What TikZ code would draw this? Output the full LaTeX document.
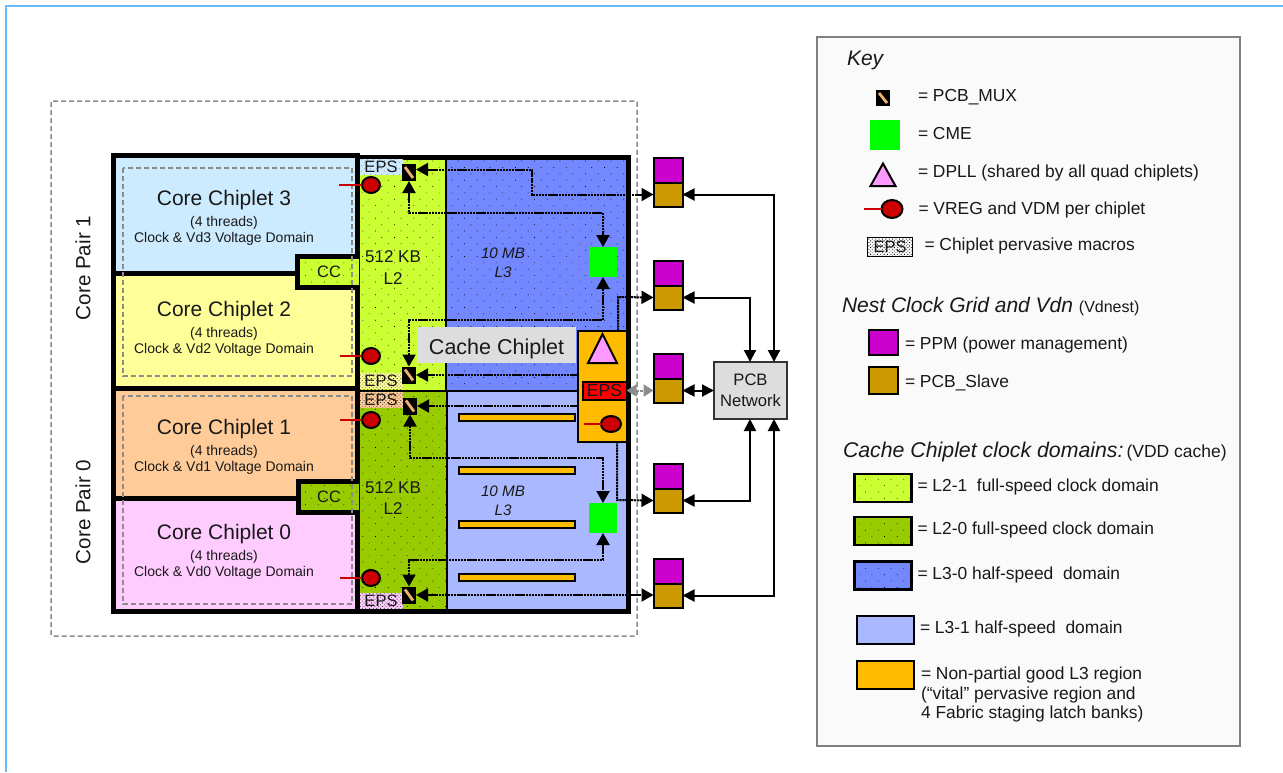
\documentclass[tikz,border=0pt]{standalone}
\usepackage{fontspec}
\setmainfont{Liberation Sans}
\usetikzlibrary{arrows.meta, positioning, shapes.geometric, patterns.meta}

\definecolor{framecol}{HTML}{66BBFF}
\definecolor{coreA}{HTML}{CCEBFF}
\definecolor{coreB}{HTML}{FFFF99}
\definecolor{coreC}{HTML}{FFCC99}
\definecolor{coreD}{HTML}{FFCCFF}
\definecolor{ltwoA}{HTML}{CCFF33}
\definecolor{ltwoB}{HTML}{99CC00}
\definecolor{lthreeA}{HTML}{7388FF}
\definecolor{lthreeB}{HTML}{AAB8FF}
\definecolor{vital}{HTML}{FFBB00}
\definecolor{ppmcol}{HTML}{CC00CC}
\definecolor{slavecol}{HTML}{CC9900}
\definecolor{dpllcol}{HTML}{FF99FF}
\definecolor{vregcol}{HTML}{CC0000}
\definecolor{stripecol}{HTML}{F0B070}
\definecolor{dashcol}{HTML}{8C8C8C}
\definecolor{labelgray}{HTML}{DDDDDD}
\definecolor{keyfill}{HTML}{FAFAFA}
\newcommand{\pxfont}[1]{\fontsize{#1}{#1}\selectfont}

\begin{document}
\begin{tikzpicture}[
    x=1pt, y=-1pt,
    every node/.style={inner sep=0pt, outer sep=0pt, text=black!90},
    fatline/.style={draw=black, line width=5pt},
    thinline/.style={draw=black, line width=2pt},
    sparse/.style={pattern={Dots[distance=9pt, angle=45, radius=0.5pt]}, pattern color=black},
    region/.style={sparse, preaction={fill=#1}},
    guard/.style={draw=dashcol, dashed, line width=1.5pt, dash pattern=on 5pt off 3pt},
    coretitle/.style={font=\pxfont{21}, align=center},
    coresub/.style={font=\fontsize{14}{16}\selectfont, align=center},
    eps/.style={rectangle, minimum width=43pt, minimum height=16pt, font=\pxfont{16.5},
        pattern={Dots[distance=2.6pt, angle=45, radius=0.55pt]}, pattern color=black!85, preaction={fill=#1}},
    mux/.style={rectangle, fill=black, minimum width=14pt, minimum height=17pt,
        path picture={\draw[stripecol, line width=2.8pt] ([xshift=3pt,yshift=-3pt]path picture bounding box.north west)
            -- ([xshift=-3pt,yshift=3pt]path picture bounding box.south east);}},
    cme/.style={rectangle, fill=green, minimum width=28pt, minimum height=30pt},
    vreg/.style={ellipse, draw=black, fill=vregcol, line width=2pt, minimum width=18pt, minimum height=16pt},
    vregtail/.style={draw=vregcol, line width=1.6pt},
    dpll/.style={draw=black, fill=dpllcol, line width=2pt, line join=miter},
    stripe/.style={rectangle, draw=black, fill=vital, line width=2pt, minimum width=116pt, minimum height=7pt},
    ppm/.style={rectangle, draw=black, fill=ppmcol, line width=2pt, minimum width=29pt, minimum height=25pt},
    slave/.style={rectangle, draw=black, fill=slavecol, line width=2pt, minimum width=29pt, minimum height=24pt},
    swatch/.style={rectangle, draw=black, line width=2.2pt, minimum width=57pt, minimum height=28pt},
    link/.style={draw=black, line width=2pt, dash pattern=on 2.2pt off 0.7pt,
        -{Triangle[length=12pt, width=13pt]}},
    linkboth/.style={link, {Triangle[length=12pt, width=13pt]}-{Triangle[length=12pt, width=13pt]}},
    bus/.style={draw=black, line width=2pt, {Triangle[length=12pt, width=12pt]}-{Triangle[length=12pt, width=12pt]}},
    keyhead/.style={font=\itshape\pxfont{21}, anchor=west},
    keylabel/.style={font=\fontsize{17.4}{19.5}\selectfont, align=left, yshift=1pt}
]
    \useasboundingbox (0,0) rectangle (1283,772);

    % Page frame
    \draw[framecol, line width=2pt] (6,772) -- (6,6) -- (1283,6);

    % Quad boundary
    \draw[guard, rounded corners=1pt] (51,101) rectangle (637,636);

    % Core chiplets
    \draw[fatline, fill=coreA] (113.5,155.5) rectangle (357,273);
    \draw[fatline, fill=coreB] (113.5,273) rectangle (357,388);
    \draw[fatline, fill=coreC] (113.5,388) rectangle (357,498.5);
    \draw[fatline, fill=coreD] (113.5,498.5) rectangle (357,611.5);

    \node[coretitle] (core3) at (224,200) {Core Chiplet 3};
    \node[coresub, below=7pt of core3] (core3sub) {(4 threads)\\Clock \& Vd3 Voltage Domain};
    \node[coretitle] (core2) at (224,311) {Core Chiplet 2};
    \node[coresub, below=7pt of core2] (core2sub) {(4 threads)\\Clock \& Vd2 Voltage Domain};
    \node[coretitle] (core1) at (224,429) {Core Chiplet 1};
    \node[coresub, below=7pt of core1] (core1sub) {(4 threads)\\Clock \& Vd1 Voltage Domain};
    \node[coretitle] (core0) at (224,534) {Core Chiplet 0};
    \node[coresub, below=7pt of core0] (core0sub) {(4 threads)\\Clock \& Vd0 Voltage Domain};

    \node[font=\pxfont{20.6}, rotate=90] (pair1) at (83,268) {Core Pair 1};
    \node[font=\pxfont{20.6}, rotate=90] (pair0) at (83,512) {Core Pair 0};

    % Cache chiplet regions
    \fill[region=ltwoA] (359,160) rectangle (445.5,391);
    \fill[region=lthreeA] (445.5,160) rectangle (626,391);
    \fill[region=ltwoB] (359,391) rectangle (446.5,609);
    \fill[lthreeB] (446.5,391) rectangle (626,609);
    \draw[thinline] (445.5,160) -- (445.5,391);
    \draw[thinline] (446.5,391) -- (446.5,609);
    \draw[thinline] (359,391) -- (626,391);
    \draw[fatline] (357,157.5) rectangle (628,611.5);

    % CC blocks
    \draw[fatline, region=ltwoA] (358.5,256) -- (297.5,256) -- (297.5,287.5) -- (358.5,287.5);
    \draw[fatline, region=ltwoB] (358.5,481.5) -- (298.5,481.5) -- (298.5,512.5) -- (358.5,512.5);
    \node[font=\pxfont{16.5}] (cc1) at (329,272) {CC};
    \node[font=\pxfont{16.5}] (cc0) at (329,497) {CC};

    % Voltage domain guards
    \draw[guard] (123,168) rectangle (352,376);
    \draw[guard] (123,396) rectangle (352,604);

    % Cache labels
    \node[font=\fontsize{17}{22}\selectfont, align=center] (ltwoup) at (393,268) {512 KB\\L2};
    \node[font=\fontsize{17}{21}\selectfont, align=center] (ltwolow) at (393,498) {512 KB\\L2};
    \node[font=\itshape\fontsize{15.2}{19}\selectfont, align=center] (lthreeup) at (503,263) {10 MB\\L3};
    \node[font=\itshape\fontsize{15.2}{19}\selectfont, align=center] (lthreelow) at (503,501) {10 MB\\L3};

    % Latch banks
    \node[stripe] (bank0) at (516.5,417) {};
    \node[stripe] (bank1) at (516.5,470) {};
    \node[stripe] (bank2) at (516.5,524) {};
    \node[stripe] (bank3) at (516.5,577) {};

    % Pervasive macros
    \node[eps=coreA, pattern={Dots[distance=4pt, angle=45, radius=0.3pt]}] (eps3) at (381,167) {EPS};
    \node[eps=coreB] (eps2) at (381,381) {EPS};
    \node[eps=coreC] (eps1) at (381,399.5) {EPS};
    \node[eps=coreD] (eps0) at (381,601) {EPS};

    % Muxes and CME
    \node[mux] (mux3) at (409,172.5) {};
    \node[mux] (mux2) at (409,375) {};
    \node[mux] (mux1) at (410,406) {};
    \node[mux] (mux0) at (409,595) {};
    \node[cme] (cmeup) at (603,262) {};
    \node[cme] (cmelow) at (603,518) {};

    % VREG
    \node[vreg] (vreg3) at (371,185) {};
    \node[vreg] (vreg2) at (371,356) {};
    \node[vreg] (vreg1) at (371,420) {};
    \node[vreg] (vreg0) at (371,578) {};
    \draw[vregtail] (vreg3.west) -- ++(-23,0);
    \draw[vregtail] (vreg2.west) -- ++(-22,0);
    \draw[vregtail] (vreg1.west) -- ++(-22,0);
    \draw[vregtail] (vreg0.west) -- ++(-22,0);

    % Cache Chiplet label and vital region
    \node[rectangle, fill=labelgray, minimum width=159pt, minimum height=36pt, font=\pxfont{21.5},
        text height=19pt, text depth=0pt] (cachelabel) at (496.5,345) {Cache Chiplet};
    \node[rectangle, draw=black, fill=vital, line width=2pt, minimum width=49pt, minimum height=111pt] (vitalbox) at (602,386) {};
    \draw[dpll] (602.5,334) -- (617,363) -- (588,363) -- cycle;
    \node[rectangle, draw=black, fill=red, line width=2pt, minimum width=44pt, minimum height=18pt, font=\pxfont{17.5}] (epsvital) at (604.5,390.5) {EPS};
    \node[vreg, minimum width=20pt] (vregvital) at (611,424) {};
    \draw[vregtail] (vregvital.west) -- ++(-17,0);

    % PPM and slaves
    \node[ppm] (ppm1) at (668,170) {};
    \node[slave, below=0pt of ppm1] (slave1) {};
    \node[ppm] (ppm2) at (668,273) {};
    \node[slave, below=0pt of ppm2] (slave2) {};
    \node[ppm] (ppm3) at (668,366) {};
    \node[slave, below=0pt of ppm3] (slave3) {};
    \node[ppm] (ppm4) at (668,476) {};
    \node[slave, below=0pt of ppm4] (slave4) {};
    \node[ppm] (ppm5) at (668,571) {};
    \node[slave, below=0pt of ppm5] (slave5) {};

    % PCB network
    \node[rectangle, draw=black!80, fill=labelgray, line width=2pt, minimum width=73pt, minimum height=57pt,
        font=\fontsize{16.6}{21}\selectfont, align=center] (pcbnet) at (750.5,390.5) {PCB\\Network};

    % Bend points
    \coordinate (bendA) at (532,180);
    \coordinate (bendB) at (500,213);
    \coordinate (bendC) at (500,320);
    \coordinate (bendD) at (500,458);
    \coordinate (bendE) at (500,560);
    \coordinate (bendF) at (618,297);
    \coordinate (bendG) at (617,500);
    \coordinate (netA) at (774,280);
    \coordinate (netB) at (750,340);
    \coordinate (netC) at (750,440);
    \coordinate (netD) at (774,500);

    % Dotted links
    \draw[linkboth] ([yshift=3pt]mux3.east) -| (bendA) |- (slave1.west);
    \draw[linkboth] (mux3.south) |- (bendB) -| (cmeup.north);
    \draw[linkboth] (mux2.north) |- (bendC) -| (cmeup.south);
    \draw[linkboth] (mux1.south) |- (bendD) -| (cmelow.north);
    \draw[linkboth] (mux0.north) |- (bendE) -| (cmelow.south);
    \draw[linkboth] (mux0.east) -- (mux0.east -| slave5.west);
    \draw[link] (mux2.east -| vitalbox.west) -- (mux2.east);
    \draw[link] (mux1.east -| vitalbox.west) -- (mux1.east);
    \draw[link] (bendF |- vitalbox.north) -- (bendF) -- (slave2.west);
    \draw[link] (bendG |- vitalbox.south) -- (bendG) -- (slave4.west);
    \draw[dashcol, line width=2pt, dash pattern=on 3pt off 1pt, {Triangle[length=10pt, width=12pt]}-{Triangle[length=10pt, width=12pt]}] (epsvital.east) -- (epsvital.east -| slave3.west);

    % Network links
    \draw[bus] (slave1.east) -| (netA) -- (netA |- pcbnet.north);
    \draw[bus] (slave2.east) -| (netB) -- (netB |- pcbnet.north);
    \draw[bus] (slave3.east) -- (slave3.east -| pcbnet.west);
    \draw[bus] (slave4.east) -| (netC) -- (netC |- pcbnet.south);
    \draw[bus] (slave5.east) -| (netD) -- (netD |- pcbnet.south);

    % Key
    \node[rectangle, draw=black!50, fill=keyfill, line width=2.2pt, minimum width=423pt, minimum height=709pt] (keybox) at (1028.5,391.5) {};
    \node[keyhead] (keytitle) at (847,60) {Key};

    \node[mux, minimum height=16pt] (keymux) at (883,98) {};
    \node[keylabel, right=28pt of keymux] (keymuxtext) {= PCB\_MUX};
    \node[cme, minimum width=30pt] (keycme) at (885,135) {};
    \node[keylabel, right=18pt of keycme] (keycmetext) {= CME};
    \draw[dpll] (883,163.5) -- (895.5,186) -- (870.5,186) -- cycle;
    \node[keylabel, anchor=west, yshift=-3pt] (keydpll) at (918,171) {= DPLL (shared by all quad chiplets)};
    \node[vreg, minimum width=21pt, minimum height=18pt] (keyvreg) at (892,209) {};
    \draw[vregtail] (keyvreg.west) -- ++(-18,0);
    \node[keylabel, right=16pt of keyvreg, yshift=-2pt] (keyvregtext) {= VREG and VDM per chiplet};
    \node[rectangle, draw=black, line width=1.5pt, minimum width=45pt, minimum height=19pt, font=\pxfont{16.5},
        pattern={Dots[distance=2.4pt, angle=45, radius=0.6pt]}, pattern color=black, preaction={fill=white}] (keyeps) at (890,247) {EPS};
    \node[keylabel, right=12pt of keyeps] (keyepstext) {= Chiplet pervasive macros};

    \node[keyhead] (keynest) at (842,307) {Nest Clock Grid and Vdn \upshape\pxfont{16}(Vdnest)};
    \node[ppm] (keyppm) at (883.5,342.5) {};
    \node[keylabel, right=7pt of keyppm, yshift=-3pt] (keyppmtext) {= PPM (power management)};
    \node[slave, minimum height=27pt] (keyslave) at (883.5,380.5) {};
    \node[keylabel, right=7pt of keyslave, yshift=-3pt] (keyslavetext) {= PCB\_Slave};

    \node[keyhead, font=\itshape\pxfont{21.3}] (keycache) at (843,452) {Cache Chiplet clock domains:\hspace{3pt}\upshape\pxfont{17.5}(VDD cache)};
    \node[swatch, region=ltwoA] (keylA) at (883,488) {};
    \node[keylabel, right=6pt of keylA] (keylAtext) {= L2-1\ \ full-speed clock domain};
    \node[swatch, region=ltwoB] (keylB) at (883,531) {};
    \node[keylabel, right=6pt of keylB] (keylBtext) {= L2-0 full-speed clock domain};
    \node[swatch, region=lthreeA] (keylC) at (883,575.5) {};
    \node[keylabel, right=6pt of keylC] (keylCtext) {= L3-0 half-speed\ \ domain};
    \node[swatch, fill=lthreeB] (keylD) at (885.5,630) {};
    \node[keylabel, right=6pt of keylD] (keylDtext) {= L3-1 half-speed\ \ domain};
    \node[swatch, fill=vital] (keyvital) at (885.5,675) {};
    \node[keylabel, anchor=north west, yshift=-4pt] (keyvitaltext) at (921,664) {= Non-partial good L3 region\\(“vital” pervasive region and\\4 Fabric staging latch banks)};

\end{tikzpicture}
\end{document}
